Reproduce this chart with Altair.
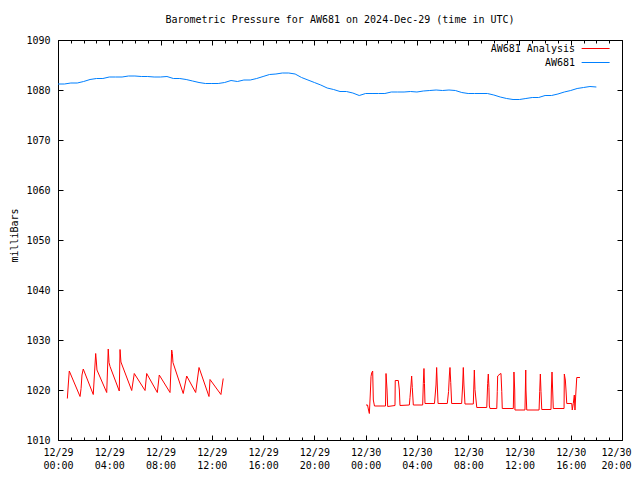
import altair as alt
import pandas as pd

# hours since 2024-12-29 00:00 UTC
blue_hours = [0.0, 0.5, 1.0, 1.5, 2.0, 2.5, 3.0, 3.5, 4.0, 4.5,
              5.0, 5.5, 6.0, 6.5, 7.0, 7.5, 8.0, 8.5, 9.0, 9.5,
              10.0, 10.5, 11.0, 11.5, 12.0, 12.5, 13.0, 13.5, 14.0, 14.5,
              15.0, 15.5, 16.0, 16.5, 17.0, 17.5, 18.0, 18.5, 19.0, 19.5,
              20.0, 20.5, 21.0, 21.5, 22.0, 22.5, 23.0, 23.5, 24.0, 24.5,
              25.0, 25.5, 26.0, 26.5, 27.0, 27.5, 28.0, 28.5, 29.0, 29.5,
              30.0, 30.5, 31.0, 31.5, 32.0, 32.5, 33.0, 33.5, 34.0, 34.5,
              35.0, 35.5, 36.0, 36.5, 37.0, 37.5, 38.0, 38.5, 39.0, 39.5,
              40.0, 40.5, 41.0, 41.5, 42.0]
blue_mb = [1081.2, 1081.2, 1081.4, 1081.4, 1081.7, 1082.1, 1082.3, 1082.3, 1082.6, 1082.6,
           1082.6, 1082.8, 1082.8, 1082.7, 1082.7, 1082.6, 1082.6, 1082.7, 1082.3, 1082.3,
           1082.1, 1081.8, 1081.5, 1081.3, 1081.3, 1081.3, 1081.5, 1081.9, 1081.7, 1082.0,
           1082.0, 1082.3, 1082.7, 1083.1, 1083.2, 1083.4, 1083.4, 1083.2, 1082.5, 1082.0,
           1081.5, 1081.0, 1080.4, 1080.1, 1079.7, 1079.7, 1079.4, 1078.9, 1079.3, 1079.3,
           1079.3, 1079.3, 1079.6, 1079.6, 1079.6, 1079.7, 1079.6, 1079.8, 1079.9, 1080.0,
           1079.9, 1080.0, 1079.9, 1079.5, 1079.3, 1079.3, 1079.3, 1079.3, 1079.0, 1078.6,
           1078.3, 1078.1, 1078.1, 1078.3, 1078.5, 1078.5, 1078.9, 1078.9, 1079.2, 1079.6,
           1079.9, 1080.3, 1080.5, 1080.7, 1080.6]

red1_hours = [0.73, 0.80, 0.88, 1.72, 1.80, 1.87, 1.97, 2.75, 2.94, 2.99,
              3.04, 3.80, 3.92, 3.98, 4.06, 4.78, 4.84, 4.91, 5.75, 5.95,
              6.79, 6.92, 7.75, 7.90, 8.74, 8.87, 8.92, 8.97, 9.77, 10.04,
              10.74, 11.00, 11.78, 11.86, 12.71, 12.89]
red1_mb = [1018.3, 1021.0, 1023.8, 1018.7, 1020.3, 1023.0, 1024.2, 1019.1, 1027.3, 1025.8,
           1024.0, 1019.5, 1028.2, 1025.5, 1024.7, 1019.8, 1028.1, 1025.6, 1019.9, 1023.3,
           1019.9, 1023.3, 1019.5, 1023.0, 1019.5, 1028.0, 1027.3, 1025.5, 1019.3, 1022.8,
           1019.5, 1024.5, 1018.7, 1022.1, 1019.1, 1022.3]

red2_hours = [24.03, 24.15, 24.21, 24.29, 24.36, 24.42, 24.47, 24.55, 24.60, 24.69,
              25.55, 25.59, 25.67, 25.72, 26.29, 26.31, 26.55, 26.63, 26.68, 27.41,
              27.46, 27.54, 27.59, 27.64, 27.72, 28.45, 28.50, 28.55, 28.59, 28.63,
              29.37, 29.49, 29.54, 29.59, 29.65, 30.37, 30.47, 30.53, 30.58, 30.64,
              30.71, 31.49, 31.57, 31.62, 31.67, 31.75, 32.40, 32.48, 32.53, 32.67,
              33.45, 33.52, 33.57, 33.62, 33.65, 33.70, 34.23, 34.27, 34.30, 34.48,
              34.56, 34.62, 34.66, 35.52, 35.55, 35.57, 35.63, 35.65, 36.43, 36.49,
              36.51, 36.57, 37.53, 37.58, 37.63, 37.68, 37.74, 38.46, 38.49, 38.54,
              38.59, 38.64, 39.48, 39.50, 39.58, 39.63, 39.69, 40.08, 40.12, 40.20,
              40.28, 40.33, 40.39, 40.47, 40.72]
red2_mb = [1017.0, 1017.0, 1016.2, 1015.3, 1019.0, 1022.7, 1023.4, 1023.8, 1018.0, 1016.8,
           1016.8, 1023.3, 1020.0, 1016.7, 1016.9, 1021.9, 1021.9, 1020.0, 1016.9, 1017.0,
           1018.5, 1021.0, 1022.8, 1020.5, 1017.0, 1017.0, 1021.3, 1024.3, 1021.3, 1017.3,
           1017.3, 1021.0, 1024.5, 1021.0, 1017.3, 1017.3, 1019.7, 1022.8, 1024.5, 1021.5,
           1017.3, 1017.3, 1021.0, 1024.5, 1021.0, 1017.2, 1017.2, 1024.0, 1020.1, 1016.5,
           1016.5, 1021.3, 1023.2, 1020.5, 1016.8, 1016.3, 1016.3, 1019.7, 1022.8, 1023.2,
           1023.3, 1019.7, 1016.3, 1016.3, 1020.0, 1023.6, 1020.0, 1016.0, 1016.0, 1024.0,
           1020.0, 1016.0, 1016.0, 1019.7, 1023.2, 1019.7, 1016.1, 1016.1, 1020.0, 1023.6,
           1020.0, 1016.3, 1016.3, 1023.2, 1022.0, 1020.0, 1017.3, 1017.3, 1016.0, 1017.3,
           1019.0, 1016.0, 1019.0, 1022.5, 1022.5]

series_names = ["AW681 Analysis", "AW681"]
series_colors = ["#ff0000", "#0080ff"]
major_ticks = [0, 4, 8, 12, 16, 20, 24, 28, 32, 36, 40, 44]
minor_ticks = list(range(0, 45))
y_ticks = [1010, 1020, 1030, 1040, 1050, 1060, 1070, 1080, 1090]

rows = []
for h, v in zip(blue_hours, blue_mb):
    rows.append({"h": h, "mb": v, "series": "AW681", "seg": "b"})
for h, v in zip(red1_hours, red1_mb):
    rows.append({"h": h, "mb": v, "series": "AW681 Analysis", "seg": "r1"})
for h, v in zip(red2_hours, red2_mb):
    rows.append({"h": h, "mb": v, "series": "AW681 Analysis", "seg": "r2"})
df = pd.DataFrame(rows)

FONT = "DejaVu Sans Mono"
xs = alt.Scale(domain=[0, 44], nice=False, zero=False)
ys = alt.Scale(domain=[1010, 1090], nice=False, zero=False)

label_expr = ("[datum.value < 24 ? '12/29' : '12/30', "
              "(datum.value % 24 < 10 ? '0' : '') + (datum.value % 24) + ':00']")

lines = alt.Chart(df).mark_line(strokeWidth=1).encode(
    x=alt.X("h:Q", scale=xs, axis=alt.Axis(
        orient="bottom", values=major_ticks, offset=-5, tickSize=5, domain=False,
        grid=False, labelExpr=label_expr, labelPadding=7, labelLineHeight=13,
        labelOffset=alt.condition("datum.value == 44", alt.value(-6), alt.value(0)),
        labelFont=FONT, labelFontSize=10, labelColor="black", tickColor="black",
        labelOverlap=False, labelFlush=False, labelBound=False, title=None)),
    y=alt.Y("mb:Q", scale=ys, axis=alt.Axis(
        orient="left", values=y_ticks, offset=-5, tickSize=5, domain=False,
        grid=False, format="d", labelPadding=8, labelFont=FONT, labelFontSize=10,
        labelColor="black", tickColor="black", title="milliBars",
        titleFont=FONT, titleFontSize=10, titleFontWeight="normal",
        titleColor="black", titlePadding=6, titleY=195)),
    color=alt.Color("series:N", scale=alt.Scale(domain=series_names, range=series_colors),
                    legend=alt.Legend(title=None, orient="none", legendX=506, legendY=3,
                                      symbolType="M2.6,0H8.6", symbolSize=87,
                                      symbolStrokeWidth=1, labelAlign="right",
                                      labelOffset=0, labelFont=FONT, labelFontSize=10,
                                      labelColor="black", rowPadding=3, padding=0)),
    detail="seg:N",
)

ghost = alt.Chart(df).mark_point(opacity=0)

top_right = ghost.encode(
    x=alt.X("h:Q", scale=xs, axis=alt.Axis(
        orient="top", values=major_ticks, offset=-5, tickSize=5, domain=False,
        grid=False, labels=False, tickColor="black", title=None)),
    y=alt.Y("mb:Q", scale=ys, axis=alt.Axis(
        orient="right", values=y_ticks, offset=-5, tickSize=5, domain=False,
        grid=False, labels=False, tickColor="black", title=None)),
)

minor_bottom = ghost.encode(
    x=alt.X("h:Q", scale=xs, axis=alt.Axis(
        orient="bottom", values=minor_ticks, offset=-3, tickSize=3, domain=False,
        grid=False, labels=False, tickColor="black", title=None)),
    y=alt.Y("mb:Q", scale=ys, axis=None),
)

minor_top = ghost.encode(
    x=alt.X("h:Q", scale=xs, axis=alt.Axis(
        orient="top", values=minor_ticks, offset=-3, tickSize=3, domain=False,
        grid=False, labels=False, tickColor="black", title=None)),
    y=alt.Y("mb:Q", scale=ys, axis=None),
)

chart = alt.layer(lines, top_right, minor_bottom, minor_top).resolve_axis(
    x="independent", y="independent"
).properties(
    width=564, height=400,
    padding={"left": 50, "top": 32, "right": 10, "bottom": 32},
    autosize=alt.AutoSizeParams(type="none"),
    title=alt.TitleParams("Barometric Pressure for AW681 on 2024-Dec-29 (time in UTC)",
                          font=FONT, fontSize=10, fontWeight="normal", color="black",
                          anchor="middle", frame="group", offset=10),
    background="white",
).configure_view(stroke="black", strokeWidth=1)

chart.save("out.html", embed_options={"renderer": "svg", "actions": False})
